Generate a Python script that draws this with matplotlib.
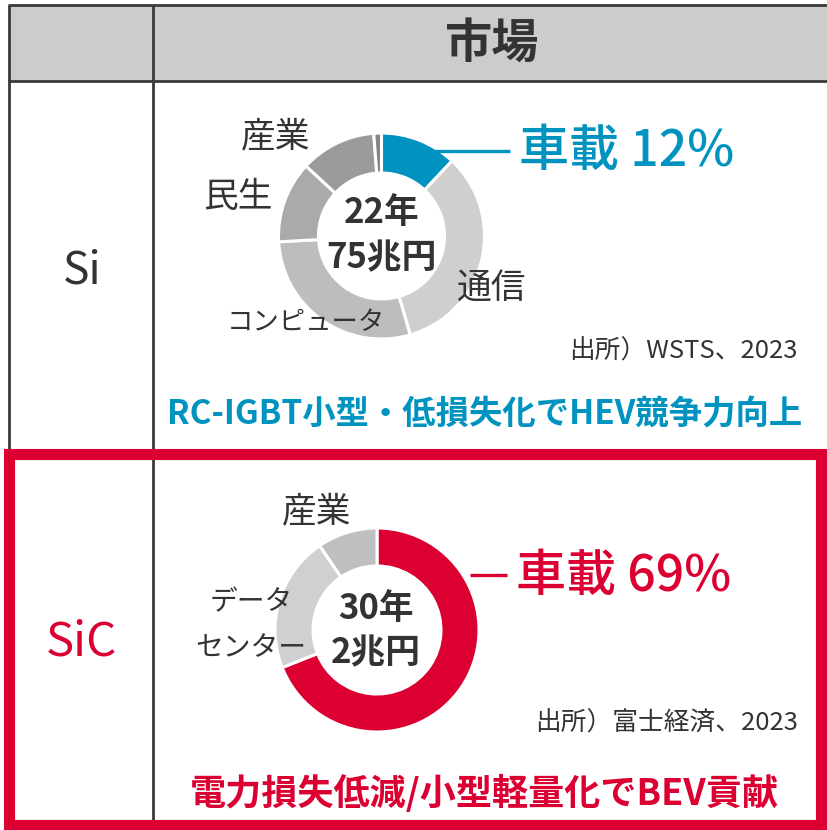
import matplotlib
matplotlib.use("Agg")
import matplotlib.pyplot as plt
from matplotlib.patches import Rectangle

plt.rcParams['font.family'] = ['Noto Sans CJK JP', 'DejaVu Sans']

# ---- data ----
header_title = "市場"
row_labels = ["Si", "SiC"]
si_segments = ["車載", "通信", "コンピュータ", "民生", "産業", "その他"]
si_values = [12, 33.5, 28.6, 12.8, 11.9, 1.2]
sic_segments = ["車載", "データセンター", "産業"]
sic_values = [69, 21.5, 9.5]
si_center = ["22年", "75兆円"]
sic_center = ["30年", "2兆円"]
si_callout = "車載 12%"
sic_callout = "車載 69%"
si_source = "出所）WSTS、2023"
sic_source = "出所）富士経済、2023"
si_caption = "RC-IGBT小型・低損失化でHEV競争力向上"
sic_caption = "電力損失低減/小型軽量化でBEV貢献"

# ---- styles ----
BLUE = "#0093c0"
RED = "#dc0032"
DARK = "#333333"
LINE = "#3a3a3a"
si_colors = [BLUE, "#cfcfcf", "#bdbdbd", "#aaaaaa", "#9b9b9b", "#858585"]
sic_colors = [RED, "#d0d0d0", "#bfbfbf"]

W, H = 828, 830
fig = plt.figure(figsize=(W / 100, H / 100), dpi=100)
ax = fig.add_axes([0, 0, 1, 1])


def Y(y):
    return H - y


# header
ax.add_patch(Rectangle((9, Y(81)), W - 9, 76, facecolor="#cccccc", edgecolor="none", zorder=0))
lw = 2.0
ax.plot([8, W], [Y(5.5), Y(5.5)], color=LINE, lw=lw, solid_capstyle="butt")
ax.plot([8, W], [Y(81.5), Y(81.5)], color=LINE, lw=lw, solid_capstyle="butt")
ax.plot([9.5, 9.5], [Y(5), Y(H)], color=LINE, lw=lw, solid_capstyle="butt")
ax.plot([153.5, 153.5], [Y(5), Y(H)], color=LINE, lw=lw, solid_capstyle="butt")
ax.plot([8, W], [Y(452), Y(452)], color=LINE, lw=lw, solid_capstyle="butt")

ax.text(492, Y(44), header_title, fontsize=34, fontweight="bold", color=DARK,
        ha="center", va="center")

# row labels
ax.text(82, Y(270), row_labels[0], fontsize=32, color=DARK, ha="center", va="center")
ax.text(81, Y(642), row_labels[1], fontsize=34, color=RED, ha="center", va="center")

# ---- Si donut ----
si_c = (381.5, Y(236))
ax.pie(si_values, colors=si_colors, startangle=90, counterclock=False, radius=103,
       center=si_c, frame=True,
       wedgeprops=dict(width=40, edgecolor="white", linewidth=2.2))
ax.text(382, Y(213), si_center[0], fontsize=25, fontweight="bold", color=DARK, ha="center", va="center")
ax.text(381, Y(258), si_center[1], fontsize=25, fontweight="bold", color=DARK, ha="center", va="center")

ax.plot([430, 510], [Y(151), Y(151)], color=BLUE, lw=2.4, solid_capstyle="butt")
ax.text(519, Y(152), si_callout, fontsize=36, fontweight="medium", color=BLUE, ha="left", va="center")

ax.text(276, Y(137), si_segments[4], fontsize=25, color=DARK, ha="center", va="center")
ax.text(238, Y(197), si_segments[3], fontsize=25, color=DARK, ha="center", va="center")
ax.text(492, Y(289), si_segments[1], fontsize=25, color=DARK, ha="center", va="center")
ax.text(306, Y(323), si_segments[2], fontsize=19, color=DARK, ha="center", va="center")

ax.text(798, Y(352), si_source, fontsize=18.5, color=DARK, ha="right", va="center")
ax.text(485, Y(415), si_caption, fontsize=24, fontweight="bold", color=BLUE, ha="center", va="center")

# ---- SiC donut ----
sic_c = (377, Y(630))
ax.pie(sic_values, colors=sic_colors, startangle=90, counterclock=False, radius=102,
       center=sic_c, frame=True,
       wedgeprops=dict(width=38, edgecolor="white", linewidth=2.2))
ax.text(376, Y(608), sic_center[0], fontsize=25, fontweight="bold", color=DARK, ha="center", va="center")
ax.text(376, Y(653), sic_center[1], fontsize=25, fontweight="bold", color=DARK, ha="center", va="center")

ax.plot([470, 507], [Y(575), Y(575)], color=RED, lw=2.4, solid_capstyle="butt")
ax.text(516, Y(577), sic_callout, fontsize=36, fontweight="medium", color=RED, ha="left", va="center")

ax.text(317, Y(512), sic_segments[2], fontsize=25, color=DARK, ha="center", va="center")
ax.text(251, Y(602), "データ", fontsize=20, color=DARK, ha="center", va="center")
ax.text(251, Y(648), "センター", fontsize=20, color=DARK, ha="center", va="center")

ax.text(798, Y(724), sic_source, fontsize=18.5, color=DARK, ha="right", va="center")
ax.text(484, Y(794), sic_caption, fontsize=26, fontweight="bold", color=RED, ha="center", va="center")

# red frame
ax.add_patch(Rectangle((9.5, Y(825.5)), 821 - 9.5, 825.5 - 454.5, facecolor="none",
                       edgecolor=RED, linewidth=8, joinstyle="miter", zorder=5))

ax.set_xlim(0, W)
ax.set_ylim(0, H)
ax.set_aspect("equal")
ax.set_axis_off()

fig.savefig("out.png", dpi=100)
